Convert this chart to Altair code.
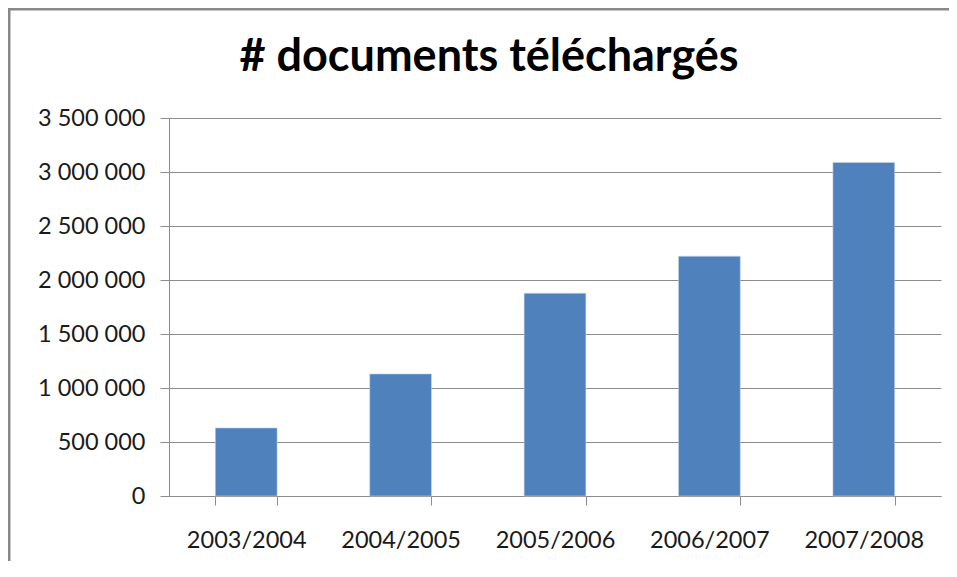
import altair as alt
import pandas as pd

years = ["2003/2004", "2004/2005", "2005/2006", "2006/2007", "2007/2008"]
downloads = [630000, 1130000, 1877000, 2220000, 3088000]
y_ticks = [0, 500000, 1000000, 1500000, 2000000, 2500000, 3000000, 3500000]
title_text = "# documents téléchargés"

df = pd.DataFrame({"year": years, "downloads": downloads})

FONT = "Lato"
GRID = "#8c8c8c"
LABEL_SIZE = 23.5

bars = alt.Chart(df).mark_bar(color="#4F81BD", stroke="#c6d4e8", strokeWidth=0.6).encode(
    x=alt.X(
        "year:N",
        sort=years,
        title=None,
        scale=alt.Scale(paddingInner=0.6, paddingOuter=0.3),
        axis=alt.Axis(
            labelAngle=0,
            labelFont=FONT,
            labelFontSize=LABEL_SIZE,
            labelColor="#1a1a1a",
            labelPadding=23,
            tickBand="extent",
            tickSize=9,
            tickColor=GRID,
            domainColor=GRID,
            grid=False,
        ),
    ),
    y=alt.Y(
        "downloads:Q",
        title=None,
        scale=alt.Scale(domain=[0, 3500000], nice=False),
        axis=alt.Axis(
            values=y_ticks,
            labelExpr="replace(replace(format(datum.value, ','), ',', ' '), ',', ' ')",
            labelFont=FONT,
            labelFontSize=LABEL_SIZE,
            labelColor="#1a1a1a",
            labelPadding=15,
            tickSize=9,
            tickColor=GRID,
            domainColor=GRID,
            gridColor=GRID,
            gridWidth=1.2,
            gridOpacity=1,
        ),
    ),
)

frame = pd.DataFrame({"label": [title_text]})
left_border = alt.Chart(frame).mark_rect(color="#888888", strokeWidth=0).encode(
    x=alt.value(-161), x2=alt.value(-158.5), y=alt.value(-110), y2=alt.value(443)
)
top_border = alt.Chart(frame).mark_rect(color="#888888", strokeWidth=0).encode(
    x=alt.value(-161), x2=alt.value(780), y=alt.value(-110), y2=alt.value(-107.5)
)
title = alt.Chart(frame).mark_text(
    font=FONT, fontSize=45, fontWeight="bold", color="#000000",
    align="center", baseline="alphabetic",
).encode(text="label:N", x=alt.value(320), y=alt.value(-47))

chart = alt.layer(bars, left_border, top_border, title).properties(
    width=772,
    height=378,
    autosize=alt.AutoSizeParams(type="none"),
    padding={"left": 161, "top": 110, "right": 8, "bottom": 65},
).configure_view(stroke=None)

chart.save("out.html", embed_options={"renderer": "svg", "actions": False})
